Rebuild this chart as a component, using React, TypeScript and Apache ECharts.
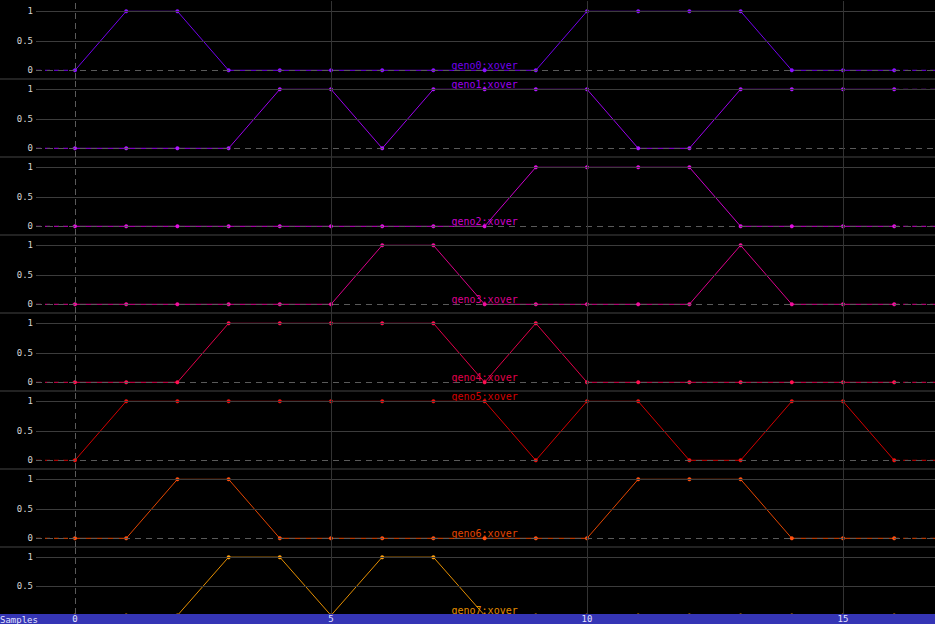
import React, { useEffect, useRef } from "react";
import * as echarts from "echarts";

const sampleIdx = [0, 1, 2, 3, 4, 5, 6, 7, 8, 9, 10, 11, 12, 13, 14, 15, 16];
const seriesNames = ["geno0:xover", "geno1:xover", "geno2:xover", "geno3:xover", "geno4:xover", "geno5:xover", "geno6:xover", "geno7:xover"];
const geno0 = [0, 1, 1, 0, 0, 0, 0, 0, 0, 0, 1, 1, 1, 1, 0, 0, 0];
const geno1 = [0, 0, 0, 0, 1, 1, 0, 1, 1, 1, 1, 0, 0, 1, 1, 1, 1];
const geno2 = [0, 0, 0, 0, 0, 0, 0, 0, 0, 1, 1, 1, 1, 0, 0, 0, 0];
const geno3 = [0, 0, 0, 0, 0, 0, 1, 1, 0, 0, 0, 0, 0, 1, 0, 0, 0];
const geno4 = [0, 0, 0, 1, 1, 1, 1, 1, 0, 1, 0, 0, 0, 0, 0, 0, 0];
const geno5 = [0, 1, 1, 1, 1, 1, 1, 1, 1, 0, 1, 1, 0, 0, 1, 1, 0];
const geno6 = [0, 0, 1, 1, 0, 0, 0, 0, 0, 0, 0, 1, 1, 1, 0, 0, 0];
const geno7 = [0, 0, 0, 1, 1, 0, 1, 1, 0, 0, 0, 0, 0, 0, 0, 0, 0];
const allSeries = [geno0, geno1, geno2, geno3, geno4, geno5, geno6, geno7];
const yTicks = [0, 0.5, 1];
const lastPanelYTicks = [0.5, 1];
const xTicks = [0, 5, 10, 15];
const labelSample = 8;

const dotColors = ["#8a10ff", "#b018ff", "#e010e0", "#f0109c", "#ff1050", "#f01010", "#ff5010", "#ffa010"];
const lineColors = ["#7400ee", "#9c00ee", "#cc00cc", "#dc008c", "#e2004a", "#d40000", "#e44600", "#e48e00"];

const W = 935;
const H = 624;
const PLOT_LEFT = 36;
const X0_PX = 75;
const PX_PER_X = 51.2;
const PANEL_TOP0 = 1;
const PANEL_H = 78;
const PX_PER_Y = 59;
const Y1_OFFSET = 10.3;
const BAR_TOP = 614;

const X_MIN = -(X0_PX - PLOT_LEFT) / PX_PER_X;
const X_MAX = (W - X0_PX) / PX_PER_X;
const Y_MAX = 1 + Y1_OFFSET / PX_PER_Y;
const Y_MIN = Y_MAX - PANEL_H / PX_PER_Y;
const MONO = "DejaVu Sans Mono";

export default function App() {
  const ref = useRef<HTMLDivElement>(null);
  useEffect(() => {
    if (!ref.current) return;
    const chart = echarts.init(ref.current, null, { renderer: "svg" });
    const grids: any[] = [];
    const xAxes: any[] = [];
    const yAxes: any[] = [];
    const series: any[] = [];
    const graphics: any[] = [];
    const lastPanel = allSeries.length - 1;

    allSeries.forEach((vals, i) => {
      const top = PANEL_TOP0 + i * PANEL_H;
      grids.push({ left: PLOT_LEFT, right: 0, top, height: PANEL_H });
      xAxes.push({
        gridIndex: i, type: "value", min: X_MIN, max: X_MAX, show: false,
        splitLine: { show: false },
      });
      yAxes.push({
        gridIndex: i, type: "value", min: Y_MIN, max: Y_MAX,
        axisLine: { show: false }, axisTick: { show: false }, splitLine: { show: false },
        axisLabel: {
          customValues: i === lastPanel ? lastPanelYTicks : yTicks,
          color: "#d4d4d4", fontFamily: MONO, fontSize: 9, margin: 3,
          formatter: (v: number) => String(v),
        },
      });
      const ml: any[] = [
        { yAxis: 1, lineStyle: { color: "#3c3c3c", type: "solid", width: 1 } },
        { yAxis: 0.5, lineStyle: { color: "#3c3c3c", type: "solid", width: 1 } },
        { yAxis: 0, lineStyle: { color: "#5a5a5a", type: [6, 5], width: 1 } },
        { xAxis: 0, lineStyle: { color: "#5a5a5a", type: [6, 4], width: 1 } },
        { xAxis: 5, lineStyle: { color: "#333", type: "solid", width: 1 } },
        { xAxis: 10, lineStyle: { color: "#333", type: "solid", width: 1 } },
        { xAxis: 15, lineStyle: { color: "#333", type: "solid", width: 1 } },
      ];
      series.push({
        type: "line", xAxisIndex: i, yAxisIndex: i, z: 1, silent: true,
        data: sampleIdx.map((x, k) => [x, vals[k]]),
        showSymbol: false, lineStyle: { opacity: 0 },
        markLine: { silent: true, symbol: "none", label: { show: false }, data: ml, animation: false },
      });
      const last = sampleIdx.length - 1;
      series.push({
        type: "line", xAxisIndex: i, yAxisIndex: i, z: 2, silent: true, showSymbol: false,
        data: [[X_MIN, vals[0]], [sampleIdx[0], vals[0]]],
        lineStyle: { color: lineColors[i], width: 1, type: [5, 4] },
      });
      series.push({
        type: "line", xAxisIndex: i, yAxisIndex: i, z: 2, silent: true, showSymbol: false,
        data: [[sampleIdx[last], vals[last]], [X_MAX, vals[last]]],
        lineStyle: { color: lineColors[i], width: 1, type: [5, 4] },
      });
      series.push({
        name: seriesNames[i],
        type: "line", xAxisIndex: i, yAxisIndex: i, z: 3,
        symbol: "circle", symbolSize: 4,
        itemStyle: { color: dotColors[i] },
        lineStyle: { color: lineColors[i], width: 1 },
        data: sampleIdx.map((x, k) =>
          k === labelSample
            ? {
                value: [x, vals[k]],
                label: {
                  show: true, position: "top", distance: -2,
                  formatter: seriesNames[i], color: lineColors[i],
                  fontFamily: MONO, fontSize: 10,
                },
              }
            : [x, vals[k]]
        ),
      });
      if (i < lastPanel) {
        const yb = top + PANEL_H;
        graphics.push({
          type: "line", z: 0, silent: true,
          shape: { x1: 0, y1: yb, x2: W, y2: yb },
          style: { stroke: "#444", lineWidth: 1 },
        });
      }
    });

    grids.push({ left: 0, right: 0, top: BAR_TOP, height: H - BAR_TOP });
    xAxes.push({
      gridIndex: allSeries.length, type: "value", z: 110,
      min: -X0_PX / PX_PER_X, max: (W - X0_PX) / PX_PER_X,
      axisLine: { show: false }, axisTick: { show: false }, splitLine: { show: false },
      axisLabel: {
        customValues: xTicks, inside: true, margin: 1,
        color: "#e4e4ff", fontFamily: MONO, fontSize: 9,
        formatter: (v: number) => String(v),
      },
    });
    yAxes.push({ gridIndex: allSeries.length, type: "value", show: false });
    graphics.push({
      type: "rect", z: 100, silent: true,
      shape: { x: 0, y: BAR_TOP, width: W, height: H - BAR_TOP },
      style: { fill: "#3535b5" },
    });
    graphics.push({
      type: "text", z: 120, silent: true, x: 0, y: BAR_TOP + 1,
      style: { text: "Samples", fill: "#e4e4ff", font: `9px ${MONO}` },
    });

    chart.setOption({
      animation: false,
      backgroundColor: "#000",
      grid: grids,
      xAxis: xAxes,
      yAxis: yAxes,
      series,
      graphic: graphics,
    });
    return () => chart.dispose();
  }, []);
  return (
    <div
      ref={ref}
      style={{ position: "fixed", left: 0, top: 0, width: W, height: H }}
    />
  );
}
